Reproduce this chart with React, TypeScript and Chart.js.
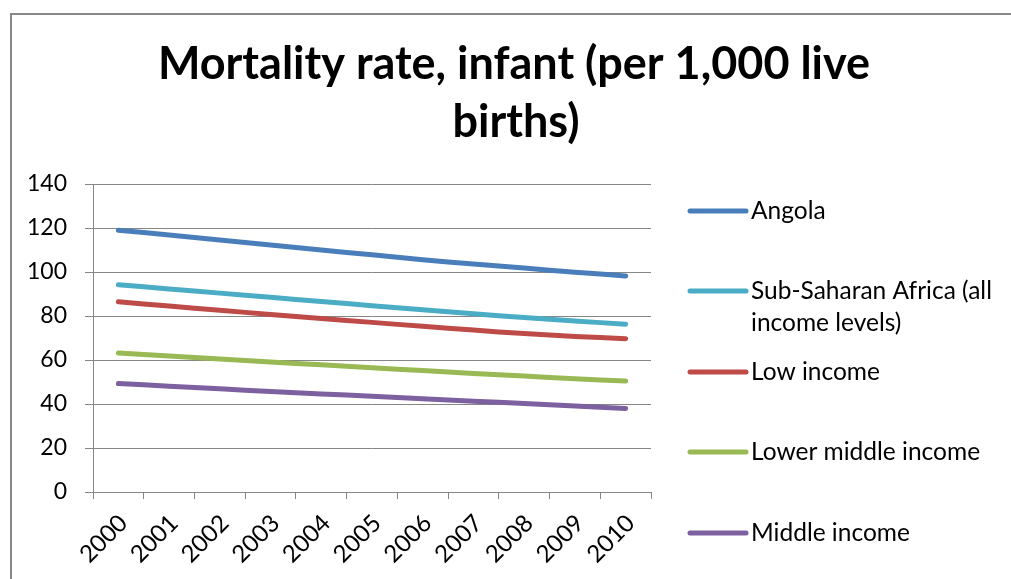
import React, { useEffect, useRef } from "react";
import { Chart, registerables } from "chart.js";

Chart.register(...registerables);

const years = ["2000", "2001", "2002", "2003", "2004", "2005", "2006", "2007", "2008", "2009", "2010"];
const angola = [119, 116.8, 114.5, 112.3, 110, 107.8, 105.6, 103.6, 101.8, 99.9, 98.2];
const subSaharan = [94.2, 92.3, 90.4, 88.5, 86.6, 84.7, 82.8, 81, 79.3, 77.7, 76.3];
const lowIncome = [86.5, 84.5, 82.6, 80.7, 78.9, 77.1, 75.3, 73.6, 72, 70.7, 69.7];
const lowerMiddle = [63.2, 61.8, 60.4, 59.1, 57.8, 56.5, 55.2, 53.9, 52.7, 51.5, 50.4];
const middleIncome = [49.3, 48.1, 46.9, 45.7, 44.6, 43.5, 42.4, 41.3, 40.2, 39.1, 38.0];
const seriesNames = ["Angola", "Sub-Saharan Africa (all income levels)", "Low income", "Lower middle income", "Middle income"];
const titleLines = ["Mortality rate, infant (per 1,000 live", "births)"];

const colors = ["#4A7EBB", "#4BACC6", "#BE4B48", "#98B954", "#7D60A0"];
const legendLines: string[][] = [["Angola"], ["Sub-Saharan Africa (all", "income levels)"], ["Low income"], ["Lower middle income"], ["Middle income"]];
const legendY = [211, 291, 372, 452, 533];

const FONT = "Lato, 'Noto Sans', sans-serif";

const titlePlugin = {
  id: "excelTitle",
  afterDraw(chart: any) {
    const ctx = chart.ctx;
    ctx.save();
    ctx.fillStyle = "#000";
    ctx.font = `bold 45px ${FONT}`;
    ctx.textAlign = "center";
    ctx.textBaseline = "alphabetic";
    ctx.fillText(titleLines[0], 514, 79);
    ctx.fillText(titleLines[1], 516, 137);
    ctx.restore();
  },
};

const legendPlugin = {
  id: "excelLegend",
  afterDraw(chart: any) {
    const ctx = chart.ctx;
    ctx.save();
    const x0 = 690, x1 = 746, tx = 751;
    legendLines.forEach((lines, i) => {
      const y = legendY[i];
      ctx.strokeStyle = colors[i];
      ctx.lineWidth = 5;
      ctx.lineCap = "round";
      ctx.beginPath();
      ctx.moveTo(x0, y);
      ctx.lineTo(x1, y);
      ctx.stroke();
      ctx.fillStyle = "#000";
      ctx.font = `24.5px ${FONT}`;
      ctx.textBaseline = "middle";
      ctx.textAlign = "left";
      lines.forEach((t, j) => ctx.fillText(t, tx, y + j * 32));
    });
    ctx.restore();
  },
};

export default function App() {
  const ref = useRef<HTMLCanvasElement>(null);
  useEffect(() => {
    document.body.style.margin = "0";
    const data = [angola, subSaharan, lowIncome, lowerMiddle, middleIncome];
    const chart = new Chart(ref.current!, {
      type: "line",
      data: {
        labels: years,
        datasets: data.map((d, i) => ({
          label: seriesNames[i],
          data: d,
          borderColor: colors[i],
          backgroundColor: colors[i],
          borderWidth: 5,
          borderCapStyle: "round",
          borderJoinStyle: "round",
          pointRadius: 0,
          tension: 0.3,
          fill: false,
        })),
      },
      options: {
        animation: false,
        responsive: false,
        devicePixelRatio: 1,
        layout: { padding: { left: 0, right: 381, top: 184, bottom: 0 } },
        plugins: {
          legend: { display: false },
          tooltip: { enabled: false },
          title: { display: false },
        },
        scales: {
          x: {
            offset: true,
            afterFit: (s: any) => { s.height = 87; },
            grid: { offset: true, drawOnChartArea: false, drawTicks: true, tickLength: 7, color: "#868686" },
            border: { color: "#868686", width: 1 },
            ticks: { color: "#000", font: { family: FONT, size: 24 }, minRotation: 45, maxRotation: 45, padding: 10, labelOffset: 5, autoSkip: false },
          },
          y: {
            min: 0,
            max: 140,
            afterFit: (s: any) => { s.width = 93; },
            grid: { color: "#868686", drawTicks: true, tickLength: 8 },
            border: { color: "#868686", width: 1 },
            ticks: { stepSize: 20, color: "#000", font: { family: FONT, size: 23 }, padding: 18 },
          },
        },
      },
      plugins: [titlePlugin, legendPlugin],
    });
    return () => chart.destroy();
  }, []);
  return (
    <div style={{ position: "fixed", left: 0, top: 0, width: 1011, height: 579, overflow: "hidden", background: "#fff" }}>
      <div style={{ position: "absolute", left: 10, top: 13, width: 1100, height: 700, borderLeft: "2px solid #878787", borderTop: "2px solid #878787", boxSizing: "border-box" }} />
      <canvas ref={ref} width={1032} height={579} style={{ position: "absolute", left: 0, top: 0, width: 1032, height: 579 }} />
    </div>
  );
}
